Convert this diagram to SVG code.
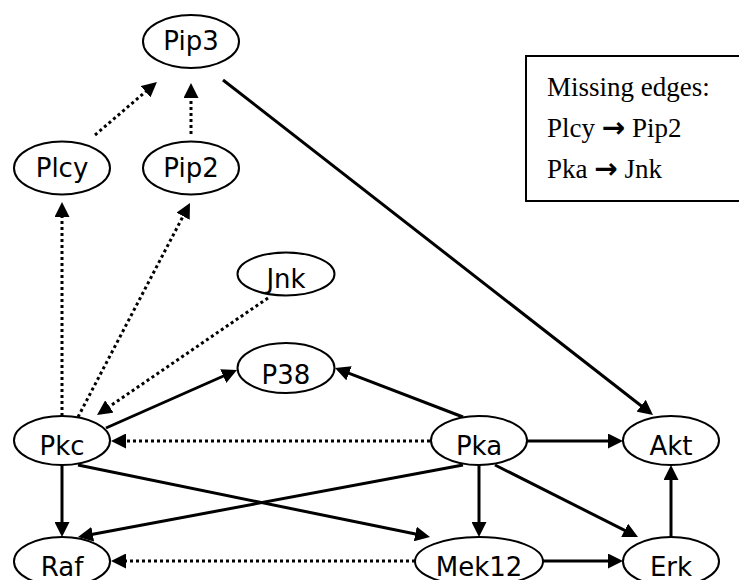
<svg xmlns="http://www.w3.org/2000/svg" width="739" height="580" viewBox="0 0 739 580">
  <style>
    .node ellipse { fill: #ffffff; stroke: #000000; stroke-width: 2; }
    .node text { font-family: "DejaVu Sans", Verdana, sans-serif; font-size: 26px; fill: #000000; text-anchor: middle; }
    .edge { stroke: #000000; stroke-width: 3; fill: none; marker-end: url(#head); }
    .dotted { stroke-dasharray: 3 3; }
    .legend rect { fill: #ffffff; stroke: #000000; stroke-width: 2; }
    .legend text { font-family: "Liberation Serif", "Times New Roman", serif; font-size: 27px; fill: #000000; }
    .legend .arr { font-family: "DejaVu Sans", sans-serif; font-weight: bold; font-size: 28px; }
  </style>
  <defs>
    <marker id="head" markerUnits="userSpaceOnUse" markerWidth="16" markerHeight="15" refX="4" refY="7.5" orient="auto">
      <path d="M0,0 L15,7.5 L0,15 Z" fill="#000000"/>
    </marker>
  </defs>

  <rect width="739" height="580" fill="#ffffff"/>

  <!-- connectors -->
  <g id="edges">
    <line class="edge dotted" x1="95" y1="135" x2="148.6" y2="89.1"/>
    <line class="edge dotted" x1="191" y1="134" x2="191" y2="94"/>
    <line class="edge" x1="223" y1="80" x2="644.3" y2="408.2"/>
    <line class="edge dotted" x1="62" y1="416" x2="62" y2="213"/>
    <line class="edge dotted" x1="78" y1="417" x2="184.9" y2="212.7"/>
    <line class="edge dotted" x1="268" y1="298" x2="106.1" y2="408.8"/>
    <line class="edge" x1="106" y1="428" x2="226.9" y2="374.5"/>
    <line class="edge" x1="463" y1="417" x2="345.3" y2="371.9"/>
    <line class="edge dotted" x1="430" y1="441" x2="122" y2="441"/>
    <line class="edge" x1="527" y1="441" x2="612" y2="441"/>
    <line class="edge" x1="62" y1="465" x2="62" y2="526"/>
    <line class="edge" x1="78" y1="465" x2="419.2" y2="534.8"/>
    <line class="edge" x1="463" y1="465" x2="88.8" y2="535"/>
    <line class="edge" x1="479" y1="465" x2="479" y2="526"/>
    <line class="edge" x1="495" y1="465" x2="628.2" y2="532.1"/>
    <line class="edge dotted" x1="415" y1="561" x2="122" y2="561"/>
    <line class="edge" x1="543" y1="561" x2="612" y2="561"/>
    <line class="edge" x1="671" y1="537" x2="671" y2="476"/>
  </g>

  <!-- nodes -->
  <g id="Pip3" class="node"><ellipse cx="191" cy="41.5" rx="48" ry="26.5"/><text x="191" y="50">Pip3</text></g>
  <g id="Plcy" class="node"><ellipse cx="62" cy="168" rx="48" ry="26.5"/><text x="62" y="177">Plcy</text></g>
  <g id="Pip2" class="node"><ellipse cx="191" cy="168" rx="48" ry="26.5"/><text x="191" y="177">Pip2</text></g>
  <g id="Jnk" class="node"><ellipse cx="286" cy="274" rx="48.5" ry="21.5"/><text x="286" y="288">Jnk</text></g>
  <g id="P38" class="node"><ellipse cx="286" cy="368" rx="48.5" ry="25"/><text x="286" y="384">P38</text></g>
  <g id="Pkc" class="node"><ellipse cx="62" cy="440.5" rx="48" ry="24.5"/><text x="62" y="455">Pkc</text></g>
  <g id="Pka" class="node"><ellipse cx="479" cy="440.5" rx="48" ry="24.5"/><text x="479" y="455">Pka</text></g>
  <g id="Akt" class="node"><ellipse cx="671" cy="440.5" rx="48" ry="24.5"/><text x="671" y="455">Akt</text></g>
  <g id="Raf" class="node"><ellipse cx="62" cy="561.5" rx="48" ry="24.5"/><text x="62" y="576">Raf</text></g>
  <g id="Mek12" class="node"><ellipse cx="479" cy="561.5" rx="64" ry="24.5"/><text x="479" y="576">Mek12</text></g>
  <g id="Erk" class="node"><ellipse cx="671" cy="561.5" rx="48" ry="24.5"/><text x="671" y="576">Erk</text></g>

  <!-- legend box -->
  <g id="legend" class="legend">
    <rect x="526" y="56" width="222" height="145"/>
    <text x="547" y="96">Missing edges:</text>
    <text x="547" y="137">Plcy <tspan class="arr">→</tspan> Pip2</text>
    <text x="547" y="178">Pka <tspan class="arr">→</tspan> Jnk</text>
  </g>
</svg>
